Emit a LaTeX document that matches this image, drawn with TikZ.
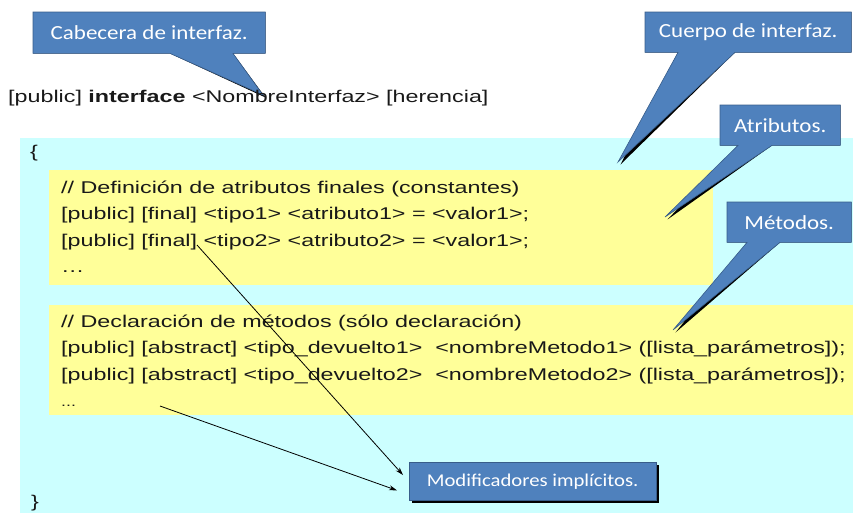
\documentclass[tikz,border=0pt]{standalone}
\usepackage{fontspec}
\setmainfont{Liberation Sans}
\newfontfamily\calfont{Carlito}
\usetikzlibrary{arrows.meta,calc}
\definecolor{bgcyan}{HTML}{CCFFFF}
\definecolor{bgyellow}{HTML}{FFFF99}
\definecolor{callblue}{HTML}{4F81BD}
\definecolor{callborder}{HTML}{385D8A}
\newcommand\tx[1]{\scalebox{1.37}[1]{#1}}
\newcommand\ctx[1]{\scalebox{1.15}[1]{#1}}
\pgfdeclarelayer{back}
\pgfdeclarelayer{shapes}
\pgfsetlayers{back,shapes,main}
% callout: name, base-left offset, base-right offset, tip
\newcommand\callshape[4]{%
  \begin{pgfonlayer}{shapes}
  \fill[black,shift={(2.5,2.5)}] (#1.north west) -- (#1.north east) -- (#1.south east)
     -- ([xshift=#3]#1.south west) -- #4 -- ([xshift=#2]#1.south west) -- (#1.south west) -- cycle;
  \filldraw[fill=callblue,draw=callborder,line width=0.6pt] (#1.north west) -- (#1.north east) -- (#1.south east)
     -- ([xshift=#3]#1.south west) -- #4 -- ([xshift=#2]#1.south west) -- (#1.south west) -- cycle;
  \end{pgfonlayer}}
\tikzset{
  code/.style={anchor=base west,inner sep=0pt,font=\fontsize{17}{20}\selectfont,text=black!90},
  calltext/.style={anchor=north west,inner sep=0pt,font=\calfont\fontsize{20}{22}\selectfont,text=white,align=center},
  implarrow/.style={line width=0.8pt,-{Stealth[length=8pt,width=5pt]}}
}
\begin{document}
\begin{tikzpicture}[x=1pt,y=-1pt]
\useasboundingbox (0,0) rectangle (853,512);
\clip (0,0) rectangle (853,512);
% backgrounds
\begin{pgfonlayer}{back}
  \fill[bgcyan] (20,138) rectangle (860,520);
  \fill[bgyellow] (49,170) rectangle (713,285);
  \fill[bgyellow] (49,305) rectangle (860,415);
\end{pgfonlayer}
% header
\node[code] (head) at (8,102) {\tx{[public] \textbf{interface} <NombreInterfaz> [herencia]}};
\node[code] (lbrace) at (30,157) {\tx{\{}};
\node[code] (rbrace) at (31,507) {\tx{\}}};
% block 1
\node[code] (a1) at (61,193) {\tx{// Definición de atributos finales (constantes)}};
\node[code] (a2) at (61,219.5) {\tx{[public] [final] <tipo1> <atributo1> = <valor1>;}};
\node[code] (a3) at (61,246) {\tx{[public] [final] <tipo2> <atributo2> = <valor1>;}};
\node[code] (a4) at (61,272.5) {\tx{…}};
% block 2
\node[code] (m1) at (61,327) {\tx{// Declaración de métodos (sólo declaración)}};
\node[code] (m2) at (61,353.5) {\tx{[public] [abstract] <tipo\_devuelto1>~~<nombreMetodo1> ([lista\_parámetros]);}};
\node[code] (m3) at (61,380) {\tx{[public] [abstract] <tipo\_devuelto2>~~<nombreMetodo2> ([lista\_parámetros]);}};
\node[code,font=\fontsize{13}{15}\selectfont] (m4) at (61,406) {\tx{...}};
% callouts
\node[calltext,minimum width=232pt,minimum height=41pt] (cab) at (33,12) {\ctx{Cabecera de interfaz.}};
\callshape{cab}{137pt}{200pt}{(263,95)}
\node[calltext,minimum width=206pt,minimum height=40pt] (cue) at (645,12) {\ctx{Cuerpo de interfaz.}};
\callshape{cue}{33pt}{90pt}{(618,162)}
\node[calltext,minimum width=120pt,minimum height=40pt] (atr) at (720,105) {\ctx{Atributos.}};
\callshape{atr}{18pt}{52pt}{(665,217)}
\node[calltext,minimum width=124pt,minimum height=40pt] (met) at (727,202) {\ctx{Métodos.}};
\callshape{met}{20pt}{53pt}{(673,330)}
\node[calltext,minimum width=247pt,minimum height=38pt,font=\calfont\fontsize{18}{20}\selectfont] (mod) at (409,462) {\ctx{Modificadores implícitos.}};
\begin{pgfonlayer}{shapes}
  \fill[black] ([shift={(2.5,2.5)}]mod.north west) rectangle ([shift={(2.5,2.5)}]mod.south east);
  \filldraw[fill=callblue,draw=callborder,line width=0.6pt] (mod.north west) rectangle (mod.south east);
\end{pgfonlayer}
% arrows
\coordinate (s1) at (197,245);
\coordinate (s2) at (160,406);
\draw[implarrow] (s1) -- ($(mod.north west)+(-6,13)$);
\draw[implarrow] (s2) -- ($(mod.south west)+(-12,-10)$);
\end{tikzpicture}
\end{document}
